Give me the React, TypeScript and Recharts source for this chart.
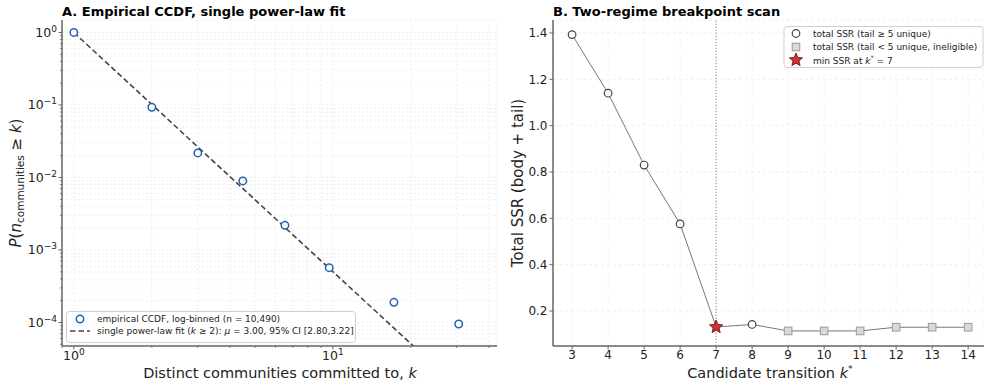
import React from "react";
import {
  ComposedChart,
  Line,
  Scatter,
  XAxis,
  YAxis,
  CartesianGrid,
  ReferenceLine,
} from "recharts";

const FONT = "DejaVu Sans, Verdana, sans-serif";
const AXIS = "#666666";
const TEXT = "#222222";

// Panel A: empirical CCDF (log-binned) and single power-law fit
const empiricalK = [1, 2.0, 3.01, 4.49, 6.53, 9.68, 17.2, 30.6];
const empiricalP = [1, 0.093, 0.0218, 0.00895, 0.00219, 0.00057, 0.00019, 0.0000953];
const fitK = [1, 25];
const fitP = [1, 0.0000244];

// Panel B: breakpoint scan
const candidateK = [3, 4, 5, 6, 7, 8, 9, 10, 11, 12, 13, 14];
const totalSSR = [1.393, 1.14, 0.83, 0.576, 0.131, 0.142, 0.114, 0.114, 0.114, 0.13, 0.13, 0.13];
const tailEligible = [true, true, true, true, true, true, false, false, false, false, false, false];
const bestK = 7;
const ssrTicks = [0.2, 0.4, 0.6, 0.8, 1.0, 1.2, 1.4];

const empRows = empiricalK.map((k, i) => ({ k, p: empiricalP[i] }));
const fitRows = fitK.map((k, i) => ({ k, p: fitP[i] }));
const scanRows = candidateK.map((k, i) => ({ k, ssr: totalSSR[i], ok: tailEligible[i] }));
const circleRows = scanRows.filter((r) => r.ok && r.k !== bestK);
const squareRows = scanRows.filter((r) => !r.ok);
const starRows = scanRows.filter((r) => r.k === bestK);

const X_DOMAIN: [number, number] = [0.9, 43];
const Y_DOMAIN: [number, number] = [4.74e-5, 1.486];

function logTicks(lo: number, hi: number) {
  const out: number[] = [];
  for (let d = Math.floor(Math.log10(lo)); d <= Math.ceil(Math.log10(hi)); d++) {
    for (let m = 1; m <= 9; m++) {
      const v = m * Math.pow(10, d);
      if (v >= lo && v <= hi) out.push(v);
    }
  }
  return out;
}

const isDecade = (v: number) =>
  Math.abs(Math.log10(v) - Math.round(Math.log10(v))) < 1e-9;
const expLabel = (v: number) => {
  const e = Math.round(Math.log10(v));
  return e < 0 ? "\u2212" + -e : String(e);
};

function LogXTick(props: any) {
  const { x, y, payload } = props;
  const v = payload.value;
  const major = isDecade(v);
  return (
    <g>
      <line x1={x} x2={x} y1={y} y2={y + (major ? 3.5 : 2)} stroke={AXIS} strokeWidth={major ? 1 : 0.8} />
      {major && (
        <text x={x} y={y + 14} textAnchor="middle" fontSize={12.5} fontFamily={FONT} fill={TEXT}>
          10
          <tspan dy={-5} fontSize={9}>
            {expLabel(v)}
          </tspan>
        </text>
      )}
    </g>
  );
}

function LogYTick(props: any) {
  const { x, y, payload } = props;
  const v = payload.value;
  const major = isDecade(v);
  return (
    <g>
      <line x1={x - (major ? 3.5 : 2)} x2={x} y1={y} y2={y} stroke={AXIS} strokeWidth={major ? 1 : 0.8} />
      {major && (
        <text x={x - 5} y={y + 4.5} textAnchor="end" fontSize={12.5} fontFamily={FONT} fill={TEXT}>
          10
          <tspan dy={-5} fontSize={9}>
            {expLabel(v)}
          </tspan>
        </text>
      )}
    </g>
  );
}

function starPoints(cx: number, cy: number, R: number) {
  const r = R * 0.45;
  const pts: string[] = [];
  for (let i = 0; i < 10; i++) {
    const a = -Math.PI / 2 + (i * Math.PI) / 5;
    const rr = i % 2 === 0 ? R : r;
    pts.push(`${cx + rr * Math.cos(a)},${cy + rr * Math.sin(a)}`);
  }
  return pts.join(" ");
}

const Circle = (p: any) => (
  <circle cx={p.cx} cy={p.cy} r={3.8} fill="#ffffff" stroke="#444444" strokeWidth={1.2} />
);
const Square = (p: any) => (
  <rect x={p.cx - 3.8} y={p.cy - 3.8} width={7.6} height={7.6} fill="#d9d9d9" stroke="#999999" strokeWidth={1} />
);
const Star = (p: any) => (
  <polygon points={starPoints(p.cx, p.cy, 7)} fill="#d62f2f" stroke="#5a1414" strokeWidth={0.8} />
);
const BlueRing = (p: any) => (
  <circle cx={p.cx} cy={p.cy} r={3.7} fill="#ffffff" stroke="#2163ad" strokeWidth={1.5} />
);

function PanelA() {
  return (
    <ComposedChart
      width={500}
      height={388}
      data={empRows}
      margin={{ top: 20, right: 3, bottom: 0, left: 0 }}
    >
      <CartesianGrid stroke="#ececec" strokeDasharray="2 2" strokeWidth={0.8} />
      <XAxis
        dataKey="k"
        type="number"
        scale="log"
        domain={X_DOMAIN}
        allowDataOverflow
        ticks={logTicks(X_DOMAIN[0], X_DOMAIN[1])}
        interval={0}
        height={42}
        tickSize={0}
        tickMargin={0}
        tickLine={false}
        tick={<LogXTick />}
        axisLine={{ stroke: AXIS, strokeWidth: 1.5 }}
      />
      <YAxis
        dataKey="p"
        type="number"
        scale="log"
        domain={Y_DOMAIN}
        allowDataOverflow
        ticks={logTicks(Y_DOMAIN[0], Y_DOMAIN[1])}
        interval={0}
        width={62}
        tickSize={0}
        tickMargin={0}
        tickLine={false}
        tick={<LogYTick />}
        axisLine={{ stroke: AXIS, strokeWidth: 1.5 }}
      />
      <Line
        data={fitRows}
        dataKey="p"
        stroke="#444444"
        strokeWidth={1.6}
        strokeDasharray="5.5 3"
        dot={false}
        isAnimationActive={false}
      />
      <Scatter data={empRows} shape={BlueRing} isAnimationActive={false} />
    </ComposedChart>
  );
}

function PanelB() {
  return (
    <ComposedChart
      width={484}
      height={388}
      data={scanRows}
      margin={{ top: 20, right: 0, bottom: 0, left: 0 }}
    >
      <CartesianGrid stroke="#ececec" strokeDasharray="3 3" strokeWidth={0.8} />
      <XAxis
        dataKey="k"
        type="number"
        domain={[2.47, 14.44]}
        ticks={candidateK}
        interval={0}
        height={42}
        tickSize={3.5}
        tickMargin={1}
        tick={{ fontSize: 12, fill: TEXT, fontFamily: FONT }}
        tickLine={{ stroke: AXIS }}
        axisLine={{ stroke: AXIS, strokeWidth: 1.5 }}
      />
      <YAxis
        dataKey="ssr"
        type="number"
        domain={[0.049, 1.456]}
        ticks={ssrTicks}
        interval={0}
        width={53}
        tickSize={3.5}
        tickMargin={2}
        tickFormatter={(v: number) => v.toFixed(1)}
        tick={{ fontSize: 12, fill: TEXT, fontFamily: FONT }}
        tickLine={{ stroke: AXIS }}
        axisLine={{ stroke: AXIS, strokeWidth: 1.5 }}
      />
      <ReferenceLine x={bestK} stroke="#8a8a8a" strokeDasharray="1.2 1.8" strokeWidth={1} />
      <Line
        dataKey="ssr"
        stroke="#777777"
        strokeWidth={1}
        dot={false}
        isAnimationActive={false}
      />
      <Scatter data={circleRows} shape={Circle} isAnimationActive={false} />
      <Scatter data={squareRows} shape={Square} isAnimationActive={false} />
      <Scatter data={starRows} shape={Star} isAnimationActive={false} />
    </ComposedChart>
  );
}

function Overlay() {
  const legendFont = { fontSize: 9, fontFamily: FONT, fill: TEXT };
  return (
    <svg
      width={984}
      height={388}
      style={{ position: "absolute", left: 0, top: 0, pointerEvents: "none" }}
    >
      {/* titles */}
      <text x={62} y={16} fontSize={13} fontWeight="bold" fontFamily={FONT} fill="#000">
        A. Empirical CCDF, single power-law fit
      </text>
      <text x={553} y={16} fontSize={13} fontWeight="bold" fontFamily={FONT} fill="#000">
        B. Two-regime breakpoint scan
      </text>

      {/* axis labels */}
      <text transform="translate(21,183) rotate(-90)" textAnchor="middle" fontSize={15} fontFamily={FONT} fill={TEXT}>
        <tspan fontStyle="italic">P</tspan>(<tspan fontStyle="italic">n</tspan>
        <tspan fontSize={10.5} dy={3}>communities</tspan>
        <tspan dy={-3}> ≥ </tspan>
        <tspan fontStyle="italic">k</tspan>)
      </text>
      <text x={280} y={378} textAnchor="middle" fontSize={14.5} fontFamily={FONT} fill={TEXT}>
        Distinct communities committed to, <tspan fontStyle="italic">k</tspan>
      </text>
      <text transform="translate(523,183) rotate(-90)" textAnchor="middle" fontSize={15} fontFamily={FONT} fill={TEXT}>
        Total SSR (body + tail)
      </text>
      <text x={770} y={378} textAnchor="middle" fontSize={14.5} fontFamily={FONT} fill={TEXT}>
        Candidate transition <tspan fontStyle="italic">k</tspan>
        <tspan dy={-6} fontSize={9.5}>*</tspan>
      </text>

      {/* legend A */}
      <rect x={66.5} y={311.5} width={289} height={31} rx={3} fill="#ffffff" fillOpacity={0.85} stroke="#cfcfcf" />
      <circle cx={80} cy={319} r={3.7} fill="#ffffff" stroke="#2163ad" strokeWidth={1.5} />
      <text x={97} y={322} {...legendFont}>
        empirical CCDF, log-binned (n = 10,490)
      </text>
      <line x1={70} x2={90} y1={331} y2={331} stroke="#444444" strokeWidth={1.6} strokeDasharray="5.5 3" />
      <text x={97} y={334} {...legendFont}>
        single power-law fit (<tspan fontStyle="italic">k</tspan> ≥ 2): <tspan fontStyle="italic">μ</tspan> = 3.00, 95% CI [2.80,3.22]
      </text>

      {/* legend B */}
      <rect x={784} y={26.5} width={199} height={41} rx={3} fill="#ffffff" fillOpacity={0.85} stroke="#cfcfcf" />
      <circle cx={796} cy={33.5} r={3.8} fill="#ffffff" stroke="#444444" strokeWidth={1.2} />
      <text x={813} y={36.5} {...legendFont}>
        total SSR (tail  ≥ 5 unique)
      </text>
      <rect x={792.2} y={43.2} width={7.6} height={7.6} fill="#d9d9d9" stroke="#999999" strokeWidth={1} />
      <text x={813} y={50} {...legendFont}>
        total SSR (tail  &lt; 5 unique, ineligible)
      </text>
      <polygon points={starPoints(796, 60, 7)} fill="#d62f2f" stroke="#5a1414" strokeWidth={0.8} />
      <text x={813} y={63.5} {...legendFont}>
        min SSR at <tspan fontStyle="italic">k</tspan>
        <tspan dy={-4} fontSize={6.5}>*</tspan>
        <tspan dy={4}> = 7</tspan>
      </text>
    </svg>
  );
}

export default function App() {
  return (
    <div style={{ position: "absolute", left: 0, top: 0, width: 984, height: 388, background: "#fff" }}>
      <div style={{ position: "absolute", left: 0, top: 0 }}>
        <PanelA />
      </div>
      <div style={{ position: "absolute", left: 500, top: 0 }}>
        <PanelB />
      </div>
      <Overlay />
    </div>
  );
}
